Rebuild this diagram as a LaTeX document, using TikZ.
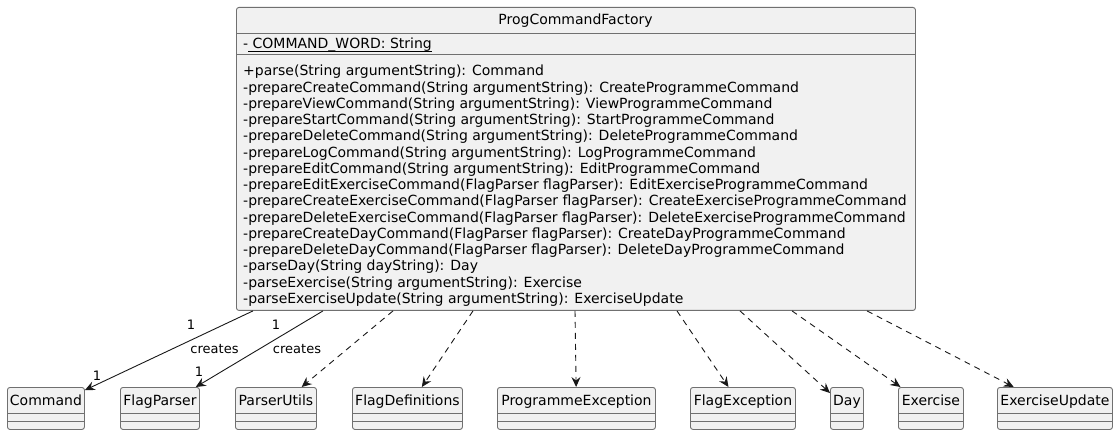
\documentclass[tikz,border=0pt]{standalone}
\usepackage{fontspec}
\setmainfont{DejaVu Sans}
\usetikzlibrary{arrows.meta,calc}
\definecolor{boxfill}{HTML}{F1F1F1}
\definecolor{boxline}{HTML}{707070}
\definecolor{edge}{HTML}{181818}
\begin{document}
\begin{tikzpicture}[x=1pt,y=-1pt,
  font=\fontsize{14pt}{16.3pt}\selectfont,
  cls/.style={draw=boxline, fill=boxfill, rounded corners=2.5pt, line width=0.9pt,
    anchor=north west, inner sep=0pt, minimum height=42pt},
  sep/.style={draw=boxline, line width=0.9pt},
  txt/.style={inner sep=0pt, text=black},
  lbl/.style={inner sep=0pt, text=black, anchor=base, font=\fontsize{13pt}{15pt}\selectfont},
  tip/.style={-{Stealth[length=10pt,width=9pt,inset=3.5pt]}},
  assoc/.style={draw=edge, line width=0.9pt, tip},
  dep/.style={draw=edge, line width=0.9pt, dash pattern=on 6pt off 5pt, tip},
]
\useasboundingbox (0,0) rectangle (1118,435);

% main class
\node[cls, minimum width=679pt, minimum height=303pt] (pcf) at (236,7) {};
\draw[sep] ($(pcf.north west)+(0,26)$) -- ($(pcf.north east)+(0,26)$);
\draw[sep] ($(pcf.north west)+(0,47)$) -- ($(pcf.north east)+(0,47)$);
\node[txt, anchor=base] (pcf-title) at (575.5,25) {ProgCommandFactory};
\node[txt, anchor=base west] (pcf-attr) at (243,49) {- COMMAND\_WORD: String};
\draw[black, line width=0.8pt] (248,51.5) -- ($(pcf-attr.base east)+(0,2.5)$);
\foreach \t [count=\i] in {
  {+parse(String argumentString): Command},
  {-prepareCreateCommand(String argumentString): CreateProgrammeCommand},
  {-prepareViewCommand(String argumentString): ViewProgrammeCommand},
  {-prepareStartCommand(String argumentString): StartProgrammeCommand},
  {-prepareDeleteCommand(String argumentString): DeleteProgrammeCommand},
  {-prepareLogCommand(String argumentString): LogProgrammeCommand},
  {-prepareEditCommand(String argumentString): EditProgrammeCommand},
  {-prepareEditExerciseCommand(FlagParser flagParser): EditExerciseProgrammeCommand},
  {-prepareCreateExerciseCommand(FlagParser flagParser): CreateExerciseProgrammeCommand},
  {-prepareDeleteExerciseCommand(FlagParser flagParser): DeleteExerciseProgrammeCommand},
  {-prepareCreateDayCommand(FlagParser flagParser): CreateDayProgrammeCommand},
  {-prepareDeleteDayCommand(FlagParser flagParser): DeleteDayProgrammeCommand},
  {-parseDay(String dayString): Day},
  {-parseExercise(String argumentString): Exercise},
  {-parseExerciseUpdate(String argumentString): ExerciseUpdate}}
  \node[txt, anchor=base west] (pcf-m\i) at (243,{76+16.25*(\i-1)}) {\t};

% target classes
\foreach \nm/\x/\w/\t in {cmd/7/77/Command, fp/120/79/FlagParser, pu/235/81/ParserUtils,
    fd/352/110/FlagDefinitions, pe/497/158/ProgrammeException, fe/690/105/FlagException,
    day/830/33/Day, ex/898/65/Exercise, eu/997/115/ExerciseUpdate} {
  \node[cls, minimum width=\w pt] (\nm) at (\x,387) {};
  \node[txt, anchor=base] (\nm-t) at ($(\nm.north)+(0,18)$) {\t};
  \draw[sep] ($(\nm.north west)+(0,26)$) -- ($(\nm.north east)+(0,26)$);
  \draw[sep] ($(\nm.north west)+(0,34)$) -- ($(\nm.north east)+(0,34)$);
}

% connector start points on the main class
\coordinate (s1) at ($(pcf.south west)+(17,0)$);
\coordinate (s2) at ($(pcf.south west)+(87,0)$);
\coordinate (s3) at ($(pcf.south west)+(157,0)$);
\coordinate (s4) at ($(pcf.south west)+(237,0)$);
\coordinate (s5) at ($(pcf.south west)+(339,0)$);
\coordinate (s6) at ($(pcf.south west)+(441,0)$);
\coordinate (s7) at ($(pcf.south west)+(504,0)$);
\coordinate (s8) at ($(pcf.south west)+(556,0)$);
\coordinate (s9) at ($(pcf.south west)+(631,0)$);

\draw[assoc] (s1) -- (cmd);
\draw[assoc] (s2) -- (fp);
\draw[dep] (s3) -- (pu);
\draw[dep] (s4) -- (fd);
\draw[dep] (s5) -- (pe);
\draw[dep] (s6) -- (fe);
\draw[dep] (s7) -- (day);
\draw[dep] (s8) -- (ex);
\draw[dep] (s9) -- (eu);

% association labels
\node[lbl] (c1-src) at (191,329) {1};
\node[lbl] (c1-lab) at (214.5,353) {creates};
\node[lbl] (c1-dst) at (97,380.5) {1};
\node[lbl] (c2-src) at (276,329) {1};
\node[lbl] (c2-lab) at (297,353) {creates};
\node[lbl] (c2-dst) at (199,376) {1};
\end{tikzpicture}
\end{document}
